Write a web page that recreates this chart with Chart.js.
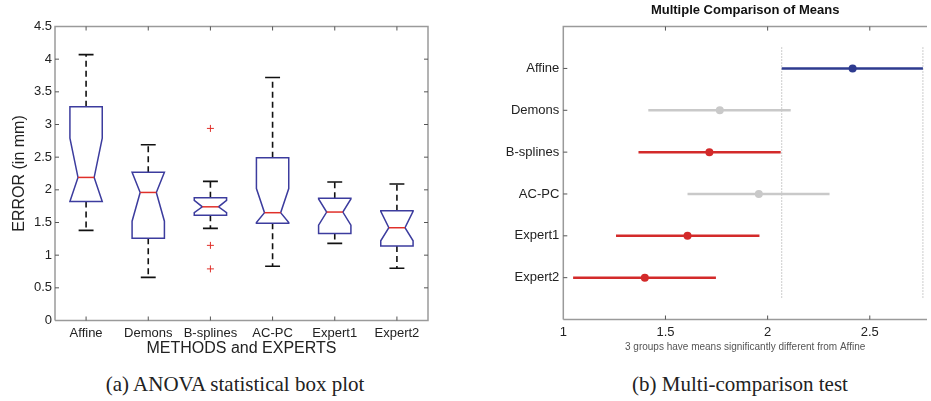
<!DOCTYPE html>
<html>
<head>
<meta charset="utf-8">
<title>ANOVA box plot and multi-comparison test</title>
<script src="https://cdn.jsdelivr.net/npm/chart.js@4.4.0/dist/chart.umd.min.js"></script>
<style>
  body { margin: 0; background: #fff; width: 931px; height: 401px; overflow: hidden; position: relative; }
  #boxWrap { position: absolute; left: 0; top: 0; width: 465px; height: 360px; }
  #mcWrap { position: absolute; left: 470px; top: 0; width: 461px; height: 360px; }
  .caption { position: absolute; top: 372px; width: 400px; text-align: center;
             font-family: "Liberation Serif", "Times New Roman", serif; font-size: 21px; color: #222; }
</style>
</head>
<body>
<div id="boxWrap"><canvas id="boxChart"></canvas></div>
<div id="mcWrap"><canvas id="mcChart"></canvas></div>
<div class="caption" style="left: 35px;">(a) ANOVA statistical box plot</div>
<div class="caption" style="left: 540px;">(b) Multi-comparison test</div>

<script>
// ---- (a) box plot data (mm) ----
const methods = ["Affine", "Demons", "B-splines", "AC-PC", "Expert1", "Expert2"];
const whiskerLow = [1.38, 0.66, 1.41, 0.83, 1.18, 0.80];
const q1 = [1.82, 1.26, 1.61, 1.49, 1.33, 1.14];
const notchLow = [1.82, 1.52, 1.65, 1.50, 1.46, 1.22];
const median = [2.19, 1.96, 1.74, 1.65, 1.66, 1.42];
const notchHigh = [2.79, 2.27, 1.84, 2.02, 1.86, 1.67];
const q3 = [3.27, 2.27, 1.88, 2.49, 1.87, 1.68];
const whiskerHigh = [4.07, 2.69, 2.13, 3.72, 2.12, 2.09];
const outlierMethod = ["B-splines", "B-splines", "B-splines"];
const outlierValue = [2.94, 1.15, 0.79];

// ---- (b) multiple comparison of means ----
const groups = ["Affine", "Demons", "B-splines", "AC-PC", "Expert1", "Expert2"];
const groupMean = [2.416, 1.766, 1.715, 1.957, 1.608, 1.399];
const ciLow = [2.069, 1.416, 1.368, 1.608, 1.258, 1.048];
const ciHigh = [2.760, 2.113, 2.064, 2.303, 1.960, 1.747];
const groupStatus = ["reference", "same", "different", "same", "different", "different"];
const mcTicks = [1, 1.5, 2, 2.5];

const statusColor = { reference: "#2e3b8f", same: "#c9c9c9", different: "#d32a2a" };
const FONT = "'Liberation Sans', Arial, sans-serif";
const plainNumber = (v) => String(+Number(v).toFixed(2));

// frame around the plot area plus short inward tick marks (Matlab style)
const frameTicks = {
  id: "frameTicks",
  afterDraw(chart, args, opts) {
    const { ctx, chartArea: a, scales } = chart;
    const len = 4;
    ctx.save();
    ctx.strokeStyle = "#9a9a9a";
    ctx.lineWidth = 1.5;
    ctx.beginPath();
    ctx.moveTo(a.left, a.bottom);
    ctx.lineTo(a.left, a.top);
    ctx.lineTo(a.right, a.top);
    if (opts.rightSide) ctx.lineTo(a.right, a.bottom);
    else ctx.moveTo(a.right, a.bottom);
    ctx.lineTo(a.left, a.bottom);
    ctx.stroke();

    ctx.strokeStyle = "#555";
    ctx.lineWidth = 1;
    ctx.beginPath();
    scales.x.ticks.forEach((t, i) => {
      const px = scales.x.getPixelForTick(i);
      if (px <= a.left + 1) return;
      ctx.moveTo(px, a.bottom); ctx.lineTo(px, a.bottom - len);
      ctx.moveTo(px, a.top); ctx.lineTo(px, a.top + len);
    });
    scales.y.ticks.forEach((t, i) => {
      const py = scales.y.getPixelForTick(i);
      if (py <= a.top + 1 || py >= a.bottom - 1) return;
      ctx.moveTo(a.left, py); ctx.lineTo(a.left + len, py);
      if (opts.rightSide) { ctx.moveTo(a.right, py); ctx.lineTo(a.right - len, py); }
    });
    ctx.stroke();
    ctx.restore();
  }
};

// notched boxes, dashed whiskers and caps
const notchedBoxes = {
  id: "notchedBoxes",
  beforeDatasetsDraw(chart) {
    const { ctx, scales: { x, y } } = chart;
    const step = x.getPixelForValue(1) - x.getPixelForValue(0);
    const halfBox = step * 0.26;
    const halfNotch = step * 0.13;
    const halfCap = step * 0.12;
    ctx.save();
    methods.forEach((m, i) => {
      const cx = x.getPixelForValue(i);
      const py = (v) => y.getPixelForValue(v);

      ctx.strokeStyle = "#111";
      ctx.lineWidth = 1.6;
      ctx.setLineDash([6, 4]);
      ctx.beginPath();
      ctx.moveTo(cx, py(q3[i])); ctx.lineTo(cx, py(whiskerHigh[i]));
      ctx.moveTo(cx, py(q1[i])); ctx.lineTo(cx, py(whiskerLow[i]));
      ctx.stroke();
      ctx.setLineDash([]);
      ctx.beginPath();
      ctx.moveTo(cx - halfCap, py(whiskerHigh[i])); ctx.lineTo(cx + halfCap, py(whiskerHigh[i]));
      ctx.moveTo(cx - halfCap, py(whiskerLow[i])); ctx.lineTo(cx + halfCap, py(whiskerLow[i]));
      ctx.stroke();

      ctx.strokeStyle = "#3c3c9e";
      ctx.lineWidth = 1.5;
      ctx.beginPath();
      ctx.moveTo(cx - halfBox, py(q1[i]));
      ctx.lineTo(cx - halfBox, py(notchLow[i]));
      ctx.lineTo(cx - halfNotch, py(median[i]));
      ctx.lineTo(cx - halfBox, py(notchHigh[i]));
      ctx.lineTo(cx - halfBox, py(q3[i]));
      ctx.lineTo(cx + halfBox, py(q3[i]));
      ctx.lineTo(cx + halfBox, py(notchHigh[i]));
      ctx.lineTo(cx + halfNotch, py(median[i]));
      ctx.lineTo(cx + halfBox, py(notchLow[i]));
      ctx.lineTo(cx + halfBox, py(q1[i]));
      ctx.closePath();
      ctx.stroke();

      ctx.strokeStyle = "#e0302a";
      ctx.beginPath();
      ctx.moveTo(cx - halfNotch, py(median[i])); ctx.lineTo(cx + halfNotch, py(median[i]));
      ctx.stroke();
    });
    ctx.restore();
  }
};

Chart.defaults.font.family = FONT;
Chart.defaults.color = "#222";

// (a) ANOVA box plot
new Chart(document.getElementById("boxChart"), {
  type: "line",
  data: {
    labels: methods,
    datasets: [{
      label: "Outliers",
      data: outlierMethod.map((m, i) => ({ x: m, y: outlierValue[i] })),
      showLine: false,
      pointStyle: "cross",
      pointRadius: 3.5,
      pointBorderWidth: 1,
      borderColor: "#e0302a",
      backgroundColor: "#e0302a"
    }]
  },
  options: {
    responsive: true,
    maintainAspectRatio: false,
    animation: false,
    layout: { padding: { top: 26.5, right: 37, left: 0, bottom: 0 } },
    plugins: { legend: { display: false }, tooltip: { enabled: false }, frameTicks: { rightSide: true } },
    scales: {
      x: {
        type: "category",
        offset: true,
        grid: { display: false, drawTicks: false },
        border: { display: false },
        ticks: { padding: 5, font: { size: 13 }, maxRotation: 0 },
        title: { display: true, text: "METHODS and EXPERTS", font: { size: 16 }, padding: { top: 0, bottom: 2 } },
        afterFit: (s) => { s.height = 39.5; }
      },
      y: {
        min: 0,
        max: 4.5,
        grid: { display: false, drawTicks: false },
        border: { display: false },
        ticks: { stepSize: 0.5, padding: 3, font: { size: 13 }, callback: plainNumber },
        title: { display: true, text: "ERROR (in mm)", font: { size: 16 }, padding: { top: 10, bottom: 0 } },
        afterFit: (s) => { s.width = 55; }
      }
    }
  },
  plugins: [notchedBoxes, frameTicks]
});

// (b) multiple comparison intervals
const mcDatasets = groups.map((g, i) => ({
  label: g,
  data: [{ x: ciLow[i], y: i + 1 }, { x: ciHigh[i], y: i + 1 }],
  showLine: true,
  borderColor: statusColor[groupStatus[i]],
  borderWidth: 2.5,
  pointRadius: 0
}));
mcDatasets.push({
  label: "Means",
  data: groups.map((g, i) => ({ x: groupMean[i], y: i + 1 })),
  showLine: false,
  pointRadius: 4,
  pointBorderWidth: 0,
  pointBackgroundColor: groupStatus.map((s) => statusColor[s])
});
// reference interval limits of the control group (Affine)
[ciLow[0], ciHigh[0]].forEach((v) => {
  mcDatasets.push({
    label: "limit",
    data: [{ x: v, y: 0.5 }, { x: v, y: groups.length + 0.5 }],
    showLine: true,
    borderColor: "#9a9a9a",
    borderWidth: 1,
    borderDash: [1, 2],
    pointRadius: 0
  });
});

new Chart(document.getElementById("mcChart"), {
  type: "scatter",
  data: { datasets: mcDatasets },
  options: {
    responsive: true,
    maintainAspectRatio: false,
    animation: false,
    layout: { padding: 0 },
    plugins: {
      legend: { display: false },
      tooltip: { enabled: false },
      frameTicks: { rightSide: false },
      title: {
        display: true,
        fullSize: false,
        text: "Multiple Comparison of Means",
        color: "#111",
        font: { size: 13, weight: "bold" },
        padding: { top: 3, bottom: 8 }
      }
    },
    scales: {
      x: {
        type: "linear",
        min: 1,
        max: 2.78,
        grid: { display: false, drawTicks: false },
        border: { display: false },
        afterBuildTicks: (s) => { s.ticks = mcTicks.map((v) => ({ value: v })); },
        ticks: { padding: 5, font: { size: 13 }, callback: plainNumber },
        title: {
          display: true,
          text: "3 groups have means significantly different from Affine",
          color: "#555",
          font: { size: 10 },
          padding: { top: 0, bottom: 7 }
        },
        afterFit: (s) => { s.height = 40.5; }
      },
      y: {
        type: "linear",
        reverse: true,
        min: 0,
        max: groups.length + 1,
        grid: { display: false, drawTicks: false },
        border: { display: false },
        afterBuildTicks: (s) => { s.ticks = groups.map((g, i) => ({ value: i + 1 })); },
        ticks: { padding: 4, font: { size: 13 }, callback: (v) => groups[v - 1] || "" },
        afterFit: (s) => { s.width = 93.3; }
      }
    }
  },
  plugins: [frameTicks]
});
</script>
</body>
</html>
